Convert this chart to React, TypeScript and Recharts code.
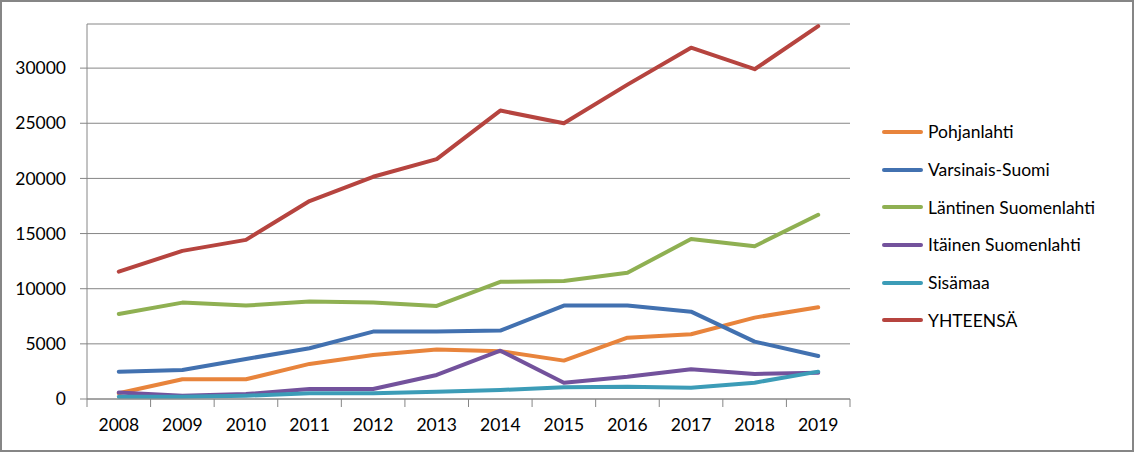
import { LineChart, Line, XAxis, YAxis, CartesianGrid } from 'recharts'

const years = ['2008', '2009', '2010', '2011', '2012', '2013', '2014', '2015', '2016', '2017', '2018', '2019']

const pohjanlahti = [520, 1790, 1790, 3180, 3990, 4480, 4340, 3480, 5560, 5870, 7380, 8320]
const varsinaisSuomi = [2480, 2630, 3630, 4600, 6110, 6110, 6200, 8470, 8470, 7920, 5200, 3900]
const lantinen = [7710, 8740, 8470, 8830, 8740, 8440, 10620, 10700, 11450, 14500, 13850, 16700]
const itainen = [600, 300, 450, 910, 910, 2180, 4380, 1480, 2020, 2690, 2270, 2390]
const sisamaa = [210, 200, 300, 520, 520, 660, 820, 1060, 1120, 1030, 1480, 2480]
const yhteensa = [11550, 13430, 14430, 17950, 20150, 21750, 26150, 25000, 28500, 31850, 29900, 33800]

const yTicks = [0, 5000, 10000, 15000, 20000, 25000, 30000]

const series = [
  { key: 'Pohjanlahti', values: pohjanlahti, color: '#E8843C' },
  { key: 'Varsinais-Suomi', values: varsinaisSuomi, color: '#4271B0' },
  { key: 'Läntinen Suomenlahti', values: lantinen, color: '#8FB052' },
  { key: 'Itäinen Suomenlahti', values: itainen, color: '#73529C' },
  { key: 'Sisämaa', values: sisamaa, color: '#3C9CB7' },
  { key: 'YHTEENSÄ', values: yhteensa, color: '#B6443F' },
]

const data = years.map((year, i) => {
  const row: Record<string, string | number> = { year }
  series.forEach((s) => { row[s.key] = s.values[i] })
  return row
})

const FONT = 'Lato, "Open Sans", sans-serif'
const GRID = '#868686'
const X_TICK_SIZE = 8
const X_TICK_MARGIN = 12

function ChartLegend() {
  return (
    <div style={{ position: 'absolute', left: 882, top: 113, fontFamily: FONT, fontSize: 17.5, color: '#000' }}>
      {series.map((s) => (
        <div key={s.key} style={{ display: 'flex', alignItems: 'center', height: 37.7 }}>
          <span style={{ width: 41, height: 4, borderRadius: 2, background: s.color, display: 'inline-block', marginRight: 5 }} />
          <span>{s.key}</span>
        </div>
      ))}
    </div>
  )
}

// year label, with tick marks between the categories like the original
function YearTick(props: any) {
  const { x, y, payload, index, visibleTicksCount } = props
  const axisY = y - X_TICK_SIZE - X_TICK_MARGIN
  const half = payload?.offset ?? 0
  return (
    <g>
      <line x1={x - half} x2={x - half} y1={axisY} y2={axisY + X_TICK_SIZE} stroke={GRID} />
      {index === visibleTicksCount - 1 && (
        <line x1={x + half} x2={x + half} y1={axisY} y2={axisY + X_TICK_SIZE} stroke={GRID} />
      )}
      <text x={x} y={y} dy="0.71em" textAnchor="middle" fill="#000" fontSize={17.5} fontFamily={FONT}>
        {payload.value}
      </text>
    </g>
  )
}

export default function App() {
  return (
    <div style={{ position: 'absolute', left: 0, top: 0, width: 1134, height: 452, background: '#fff' }}>
      <LineChart width={1134} height={452} data={data} margin={{ top: 24, right: 284, left: 0, bottom: 23 }}>
        <CartesianGrid horizontal vertical={false} stroke={GRID} strokeWidth={1} />
        <XAxis
          dataKey="year"
          scale="band"
          tickLine={false}
          tickSize={X_TICK_SIZE}
          tickMargin={X_TICK_MARGIN}
          axisLine={{ stroke: GRID }}
          tick={<YearTick />}
          interval={0}
          height={30}
        />
        <YAxis
          domain={[0, 34000]}
          ticks={yTicks}
          interval={0}
          allowDataOverflow
          width={87}
          tickSize={7}
          tickMargin={14}
          tickLine={{ stroke: GRID }}
          axisLine={{ stroke: GRID }}
          tick={{ fill: '#000', fontSize: 17.5, fontFamily: FONT }}
        />
        {series.map((s) => (
          <Line
            key={s.key}
            type="linear"
            dataKey={s.key}
            stroke={s.color}
            strokeWidth={4}
            strokeLinecap="round"
            strokeLinejoin="round"
            dot={false}
            activeDot={false}
            isAnimationActive={false}
          />
        ))}
      </LineChart>
      <ChartLegend />
      <div style={{ position: 'absolute', left: 0, top: 0, width: 1134, height: 452, boxSizing: 'border-box', border: '2px solid #868686', pointerEvents: 'none' }} />
    </div>
  )
}
